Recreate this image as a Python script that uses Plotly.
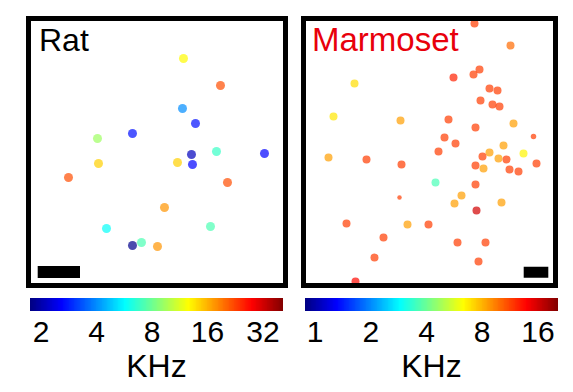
import numpy as np
import plotly.graph_objects as go

# ---------------- data ----------------
# Rat: cell positions (arbitrary units within field) and best frequency (kHz)
rat_x = [155, 192, 154, 167, 104, 69, 188, 163, 236, 70, 149, 164, 40, 199, 136, 78, 182, 104, 113, 129]
rat_y = [227, 200, 177, 162, 152, 147, 134, 131, 132, 122, 123, 121, 108, 103, 78, 57, 59, 40, 43, 39]
rat_khz = [12.7, 21.8, 4.0, 2.7, 2.7, 9.3, 6.8, 2.1, 2.6, 14.5, 14.5, 2.6, 21.8, 21.8, 17.5, 5.8, 7.2, 1.8, 7.2, 17.5]

# Marmoset
marm_x = [171, 207, 150, 176, 170, 51, 186, 194, 177, 189, 196, 30, 97, 145, 210, 172, 230, 141, 152, 200,
          135, 186, 220, 25, 63, 179, 195, 203, 98, 172, 180, 206, 215, 233, 132, 172, 96, 158, 151, 198,
          173, 43, 104, 125, 80, 154, 182, 71, 175, 52]
marm_y = [262, 240, 208, 216, 211, 202, 197, 195, 185, 181, 179, 169, 165, 166, 162, 158, 149, 148, 142, 140,
          134, 133, 132, 128, 126, 129, 127, 126, 121, 120, 117, 116, 114, 122, 103, 101, 88, 90, 82, 83,
          75, 62, 61, 61, 48, 43, 43, 28, 24, 4]
marm_khz = [11.5, 10.0, 12.5, 11.5, 11.5, 7.0, 11.5, 11.5, 11.5, 11.5, 11.5, 6.8, 8.5, 11.5, 8.5, 11.5, 11.5, 11.5, 11.5, 8.5,
            11.5, 8.5, 6.5, 8.5, 11.5, 11.5, 8.5, 11.5, 11.5, 11.5, 8.5, 11.5, 11.5, 11.5, 3.6, 11.5, 11.5, 8.5, 8.5, 8.5,
            16.0, 11.5, 8.5, 11.5, 11.5, 11.5, 11.5, 11.5, 11.5, 13.5]

# colour scales (log2 kHz limits) and tick labels
rat_range = [0.8, 5.36]
rat_ticks = [2, 4, 8, 16, 32]
marm_range = [-0.18, 4.36]
marm_ticks = [1, 2, 4, 8, 16]

# ---------------- style ----------------
W, H = 573, 392
jet = [[0, 'rgb(0,0,128)'], [0.125, 'rgb(0,0,255)'], [0.375, 'rgb(0,255,255)'],
       [0.625, 'rgb(255,255,0)'], [0.875, 'rgb(255,0,0)'], [1, 'rgb(128,0,0)']]
FONT = "Liberation Sans, Arial, sans-serif"

def px(xp):
    return xp / W

def py(yp):
    return 1 - yp / H

fig = go.Figure()

rat_sizes = [9] * len(rat_x)
marm_sizes = [8] * len(marm_x)
marm_sizes[16] = 5.5
marm_sizes[36] = 4.5

fig.add_trace(go.Scatter(
    x=rat_x, y=rat_y, mode="markers", xaxis="x", yaxis="y",
    marker=dict(size=rat_sizes, color=np.log2(rat_khz), colorscale=jet,
                cmin=rat_range[0], cmax=rat_range[1], showscale=False, line=dict(width=0)),
    showlegend=False, hoverinfo="skip"))
fig.add_trace(go.Scatter(
    x=marm_x, y=marm_y, mode="markers", xaxis="x2", yaxis="y2",
    marker=dict(size=marm_sizes, color=np.log2(marm_khz), colorscale=jet,
                cmin=marm_range[0], cmax=marm_range[1], showscale=False, line=dict(width=0)),
    showlegend=False, hoverinfo="skip"))

# colour bars as gradient strips
for rng, xa, ya in [(rat_range, "x3", "y3"), (marm_range, "x4", "y4")]:
    grad = np.linspace(rng[0], rng[1], 300)
    fig.add_trace(go.Heatmap(x=grad, y=[0], z=[grad], colorscale=jet, zmin=rng[0], zmax=rng[1],
                             showscale=False, xaxis=xa, yaxis=ya, hoverinfo="skip"))

hidden = dict(visible=False, showgrid=False, zeroline=False, fixedrange=True)
fig.update_layout(
    width=W, height=H, margin=dict(l=0, r=0, t=0, b=0),
    paper_bgcolor="white", plot_bgcolor="white",
    font=dict(family=FONT, color="black"),
    xaxis=dict(domain=[px(28.5), px(285.5)], range=[0, 257], **hidden),
    yaxis=dict(domain=[py(285.5), py(18.5)], range=[0, 267], **hidden),
    xaxis2=dict(domain=[px(303.5), px(555.5)], range=[0, 252], **hidden),
    yaxis2=dict(domain=[py(285.5), py(18.5)], range=[0, 267], **hidden),
    xaxis3=dict(domain=[px(30), px(283)], range=rat_range, anchor="y3", fixedrange=True,
                tickvals=np.log2(rat_ticks), ticktext=[str(t) for t in rat_ticks],
                ticks="", showgrid=False, zeroline=False, showline=False,
                tickfont=dict(size=30), title=dict(text="KHz", font=dict(size=32), standoff=0)),
    yaxis3=dict(domain=[py(311), py(298)], anchor="x3", visible=False, range=[-0.5, 0.5], fixedrange=True),
    xaxis4=dict(domain=[px(305), px(558)], range=marm_range, anchor="y4", fixedrange=True,
                tickvals=np.log2(marm_ticks), ticktext=[str(t) for t in marm_ticks],
                ticks="", showgrid=False, zeroline=False, showline=False,
                tickfont=dict(size=30), title=dict(text="KHz", font=dict(size=32), standoff=0)),
    yaxis4=dict(domain=[py(311), py(298)], anchor="x4", visible=False, range=[-0.5, 0.5], fixedrange=True),
)

# panel frames and scale bars
for xr, yr in [("x", "y"), ("x2", "y2")]:
    fig.add_shape(type="rect", xref=f"{xr} domain", yref=f"{yr} domain", x0=0, x1=1, y0=0, y1=1,
                  line=dict(color="black", width=5), fillcolor="rgba(0,0,0,0)", layer="above")
fig.add_shape(type="rect", xref="x", yref="y", x0=9.2, x1=51.5, y0=7.5, y1=19.5,
              line=dict(width=0), fillcolor="black")
fig.add_shape(type="rect", xref="x2", yref="y2", x0=220.2, x1=244.8, y0=7.8, y1=18.8,
              line=dict(width=0), fillcolor="black")

fig.add_annotation(text="Rat", xref="paper", yref="paper", x=px(37), y=py(20),
                   xanchor="left", yanchor="top", showarrow=False,
                   font=dict(size=32, color="black", family=FONT))
fig.add_annotation(text="Marmoset", xref="paper", yref="paper", x=px(310), y=py(19),
                   xanchor="left", yanchor="top", showarrow=False,
                   font=dict(size=33, color="#e8000b", family=FONT))

fig.write_html("out.html", config={"displayModeBar": False, "staticPlot": True})

# remove default page margin so the figure sits at the window origin
with open("out.html", "r", encoding="utf-8") as f:
    html = f.read()
html = html.replace("<head>", "<head><style>html,body{margin:0;padding:0;overflow:hidden;}</style>", 1)
with open("out.html", "w", encoding="utf-8") as f:
    f.write(html)
